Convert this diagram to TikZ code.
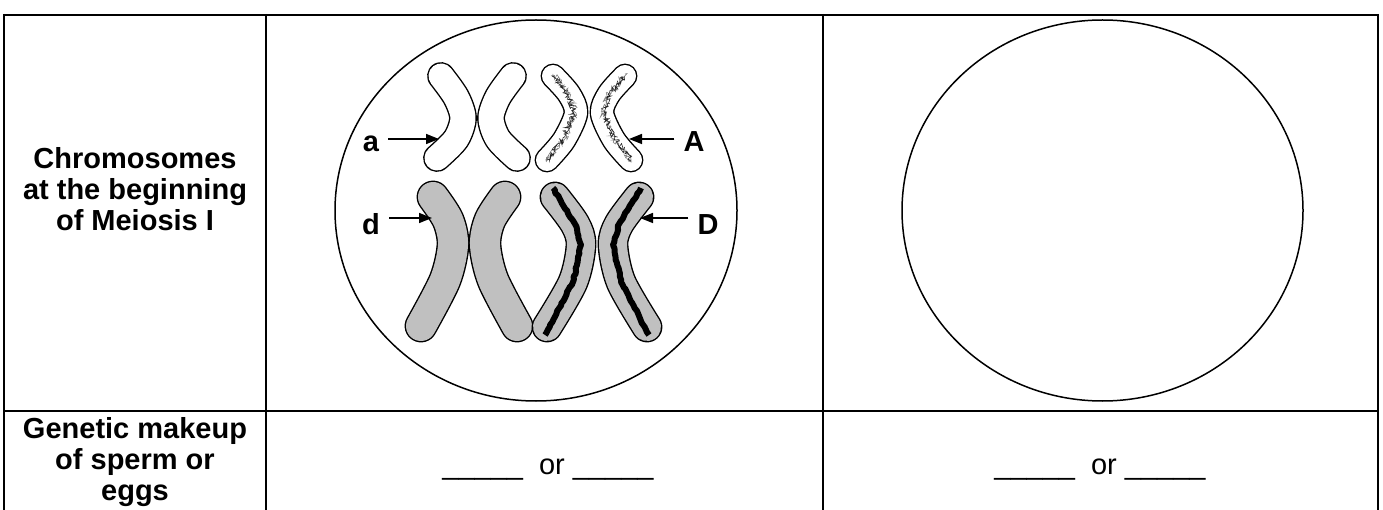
\documentclass[tikz,border=0pt]{standalone}
\usepackage{fontspec}
\setmainfont{Liberation Sans}
\usetikzlibrary{arrows.meta,decorations.pathmorphing}
\definecolor{chromgray}{HTML}{C0C0C0}

\begin{document}
\begin{tikzpicture}[x=1pt,y=-1pt,
    head_text/.style={font=\fontsize{29}{31}\selectfont\bfseries, align=center, inner sep=0pt},
    blank_text/.style={font=\fontsize{29}{31}\selectfont, inner sep=0pt},
    gene_label/.style={font=\fontsize{29}{31}\selectfont\bfseries, inner ysep=0pt, inner xsep=9pt},
    grid_line/.style={line width=2pt},
    cell_circle/.style={line width=1.5pt},
    chromatid/.style 2 args={double=#1, double distance=#2, line width=1.4pt, line cap=round, line join=round},
    speckle/.style={line width=0.6pt, black!#1, decorate, decoration={random steps, segment length=1pt, amplitude=3pt}},
    band/.style={line width=6pt, black, line join=round, decorate, decoration={random steps, segment length=3pt, amplitude=0.8pt}},
    pointer/.style={line width=1.5pt, -{Triangle[length=13pt,width=10pt]}}]
    \pgfmathsetseed{42}
    \useasboundingbox (0,0) rectangle (1383,510);

    % table
    \draw[grid_line] (4,15) -- (1378,15);
    \draw[grid_line] (4,411) -- (1378,411);
    \draw[grid_line] (4,14) -- (4,512);
    \draw[grid_line] (266,14) -- (266,512);
    \draw[grid_line] (823,14) -- (823,512);
    \draw[grid_line] (1378,14) -- (1378,512);

    \node[head_text, anchor=north] (chrom_head) at (135,147) {Chromosomes\\at the beginning\\of Meiosis I};
    \node[head_text, anchor=north] (gamete_head) at (135,417) {Genetic makeup\\of sperm or\\eggs};
    \node[blank_text, anchor=base] (blank_left) at (548,474) {\_\_\_\_\_\ \ or \_\_\_\_\_};
    \node[blank_text, anchor=base] (blank_right) at (1100,474) {\_\_\_\_\_\ \ or \_\_\_\_\_};

    % cells
    \draw[cell_circle] (536,210.5) ellipse [x radius=201, y radius=190.5];
    \draw[cell_circle] (1102.5,210.5) ellipse [x radius=200.5, y radius=190.5];

    % a
    \draw[chromatid={white}{25pt}] plot[smooth] coordinates {(441,76) (456,97) (463,118) (456,139) (437,158)};
    \draw[chromatid={white}{25pt}] plot[smooth] coordinates {(513,76) (498,97) (491,118) (498,139) (517,158)};
    % A
    \draw[chromatid={white}{22pt}] plot[smooth] coordinates {(553,76) (569,94) (576,113) (564,140) (547,160)};
    \draw[speckle=50] (553,74) -- (569,94) -- (576,113) -- (564,140) -- (546,162);
    \draw[speckle=85] (554,76) -- (568,95) -- (574,113) -- (562,140) -- (547,160);
    \draw[chromatid={white}{22pt}] plot[smooth] coordinates {(625,76) (609,94) (602,113) (614,140) (631,160)};
    \draw[speckle=50] (625,74) -- (609,94) -- (602,113) -- (614,140) -- (632,162);
    \draw[speckle=85] (624,76) -- (610,95) -- (604,113) -- (616,140) -- (631,160);
    % d
    \draw[chromatid={chromgray}{30pt}] plot[smooth] coordinates {(433,197) (448,220) (453,245) (445,280) (421,326)};
    \draw[chromatid={chromgray}{30pt}] plot[smooth] coordinates {(505,197) (490,220) (485,245) (493,280) (517,326)};
    % D
    \draw[chromatid={chromgray}{28pt}] plot[smooth] coordinates {(555,197) (575,224) (581,245) (573,282) (547,327)};
    \draw[band] (553,188) -- (575,224) -- (581,245) -- (573,282) -- (545,335);
    \draw[chromatid={chromgray}{28pt}] plot[smooth] coordinates {(639,197) (619,224) (613,245) (621,282) (647,327)};
    \draw[band] (641,188) -- (619,224) -- (613,245) -- (621,282) -- (649,335);

    % gene labels
    \node[gene_label, anchor=base] (a) at (371,152) {a};
    \node[gene_label, anchor=base] (A) at (694,152) {A};
    \node[gene_label, anchor=base] (d) at (371,235) {d};
    \node[gene_label, anchor=base] (D) at (708,235) {D};
    \coordinate (a_tip) at (439,139);
    \coordinate (A_tip) at (629,139);
    \coordinate (d_tip) at (432,218);
    \coordinate (D_tip) at (640,218);

    \draw[pointer] (a.east |- a_tip) -- (a_tip);
    \draw[pointer] (A.west |- A_tip) -- (A_tip);
    \draw[pointer] (d.east |- d_tip) -- (d_tip);
    \draw[pointer] (D.west |- D_tip) -- (D_tip);

\end{tikzpicture}
\end{document}
